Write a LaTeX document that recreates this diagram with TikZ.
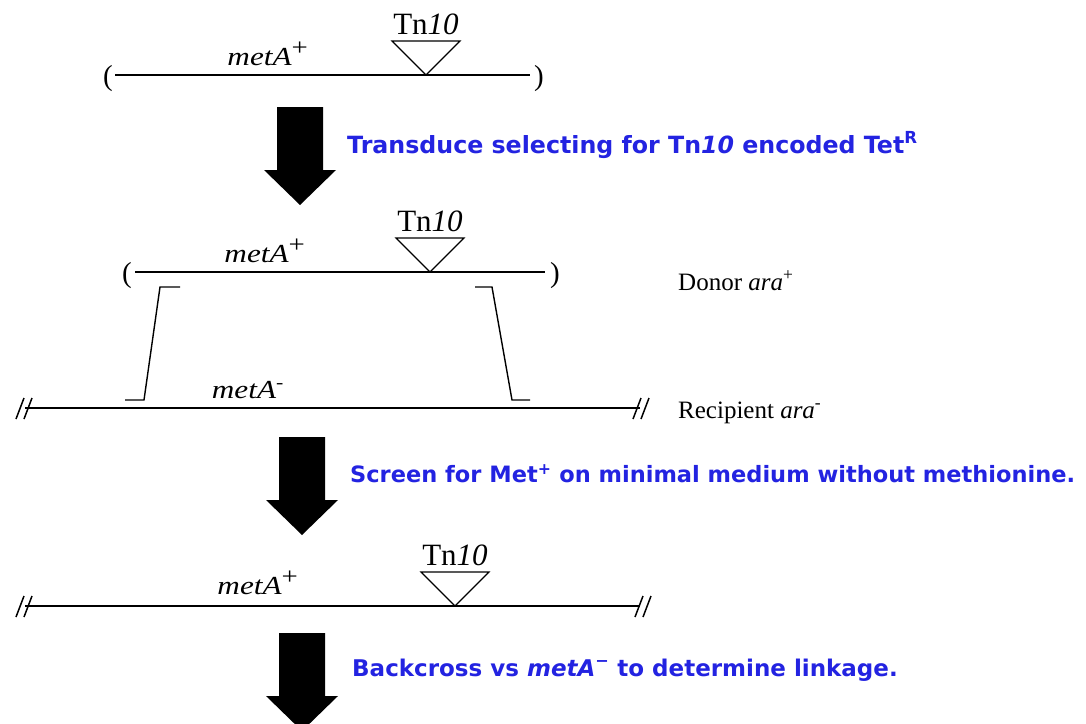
\documentclass[tikz,border=0pt]{standalone}
\usepackage{fontspec}
\setmainfont{Liberation Serif}
\newfontfamily\notefont{DejaVu Sans}
\definecolor{noteblue}{RGB}{35,35,225}
\newcommand{\plus}{\textsuperscript{\fontsize{24}{24}\selectfont +}}
\tikzset{
  strand/.style={line width=1.6pt},
  insert/.style={line width=1.1pt},
  bracket/.style={line width=1.4pt},
  gene/.style={inner sep=0pt, anchor=base, xscale=1.2, font=\fontsize{26}{30}\selectfont},
  tnlabel/.style={inner sep=0pt, anchor=base, font=\fontsize{31}{34}\selectfont},
  paren/.style={inner sep=0pt, font=\fontsize{29}{32}\selectfont},
  strain/.style={inner sep=0pt, anchor=base west, font=\fontsize{25}{30}\selectfont},
  note/.style={inner sep=0pt, anchor=base west, text=noteblue,
    font=\notefont\bfseries\fontsize{23}{27}\selectfont},
}
% fat down arrow: centre x, top y
\newcommand{\fatarrow}[2]{%
  \fill ({#1-23},#2) -- ({#1+23},#2) -- ({#1+23},{#2+63}) -- ({#1+36},{#2+63})
    -- (#1,{#2+98}) -- ({#1-36},{#2+63}) -- ({#1-23},{#2+63}) -- cycle;}
% broken chromosome end
\newcommand{\cutmark}[2]{%
  \draw[line width=1.5pt] ({#1-9},{#2+11}) -- ({#1-1},{#2-10})
    ({#1-1},{#2+11}) -- ({#1+7},{#2-10});}
% Tn10 insertion: name, apex x, strand y
\newcommand{\tninsert}[3]{%
  \draw[insert] ({#2-34},{#3-34}) -- ({#2+34},{#3-34}) -- (#2,#3) -- cycle;
  \node[tnlabel] (#1) at (#2,{#3-41}) {Tn\textit{10}};}
\begin{document}
\begin{tikzpicture}[x=1pt,y=-1pt]
    \useasboundingbox (0,0) rectangle (1086,723);
    % donor chromosome, start
    \draw[strand] (115,75) -- (530,75);
    \node[paren] (p1l) at (108,79) {(};
    \node[paren] (p1r) at (539,79) {)};
    \node[gene] (g1) at (268,65) {\textit{metA}\plus};
    \tninsert{tn1}{426}{75}
    \fatarrow{300}{107}
    \node[note, font=\notefont\bfseries\fontsize{23.7}{27}\selectfont] (n1) at (347,153)
      {Transduce selecting for Tn\textit{10} encoded Tet\textsuperscript{R}};
    % donor fragment over recipient
    \draw[strand] (135,272) -- (545,272);
    \node[paren] (p2l) at (127,276) {(};
    \node[paren] (p2r) at (555,276) {)};
    \node[gene] (g2) at (265,262) {\textit{metA}\plus};
    \tninsert{tn2}{430}{272}
    \node[strain] (donor) at (678,290) {Donor \textit{ara}\textsuperscript{+}};
    \draw[bracket] (180,287) -- (160,287) -- (144,400) -- (125,400);
    \draw[bracket] (475,287) -- (492,287) -- (512,400) -- (530,400);
    \draw[strand] (25,408) -- (640,408);
    \cutmark{25}{408}
    \cutmark{642}{408}
    \node[gene] (g3) at (248,398) {\textit{metA}\textsuperscript{-}};
    \node[strain] (recip) at (678,418) {Recipient \textit{ara}\textsuperscript{-}};
    \fatarrow{302}{437}
    \node[note, font=\notefont\bfseries\fontsize{22.5}{27}\selectfont] (n2) at (350,482)
      {Screen for Met\textsuperscript{+} on minimal medium without methionine.};
    % recombinant
    \draw[strand] (25,606) -- (640,606);
    \cutmark{25}{606}
    \cutmark{644}{606}
    \node[gene] (g4) at (258,594) {\textit{metA}\plus};
    \tninsert{tn4}{455}{606}
    \fatarrow{302}{633}
    \node[note] (n3) at (352,676) {Backcross vs \textit{metA}\textsuperscript{−} to determine linkage.};
\end{tikzpicture}
\end{document}
